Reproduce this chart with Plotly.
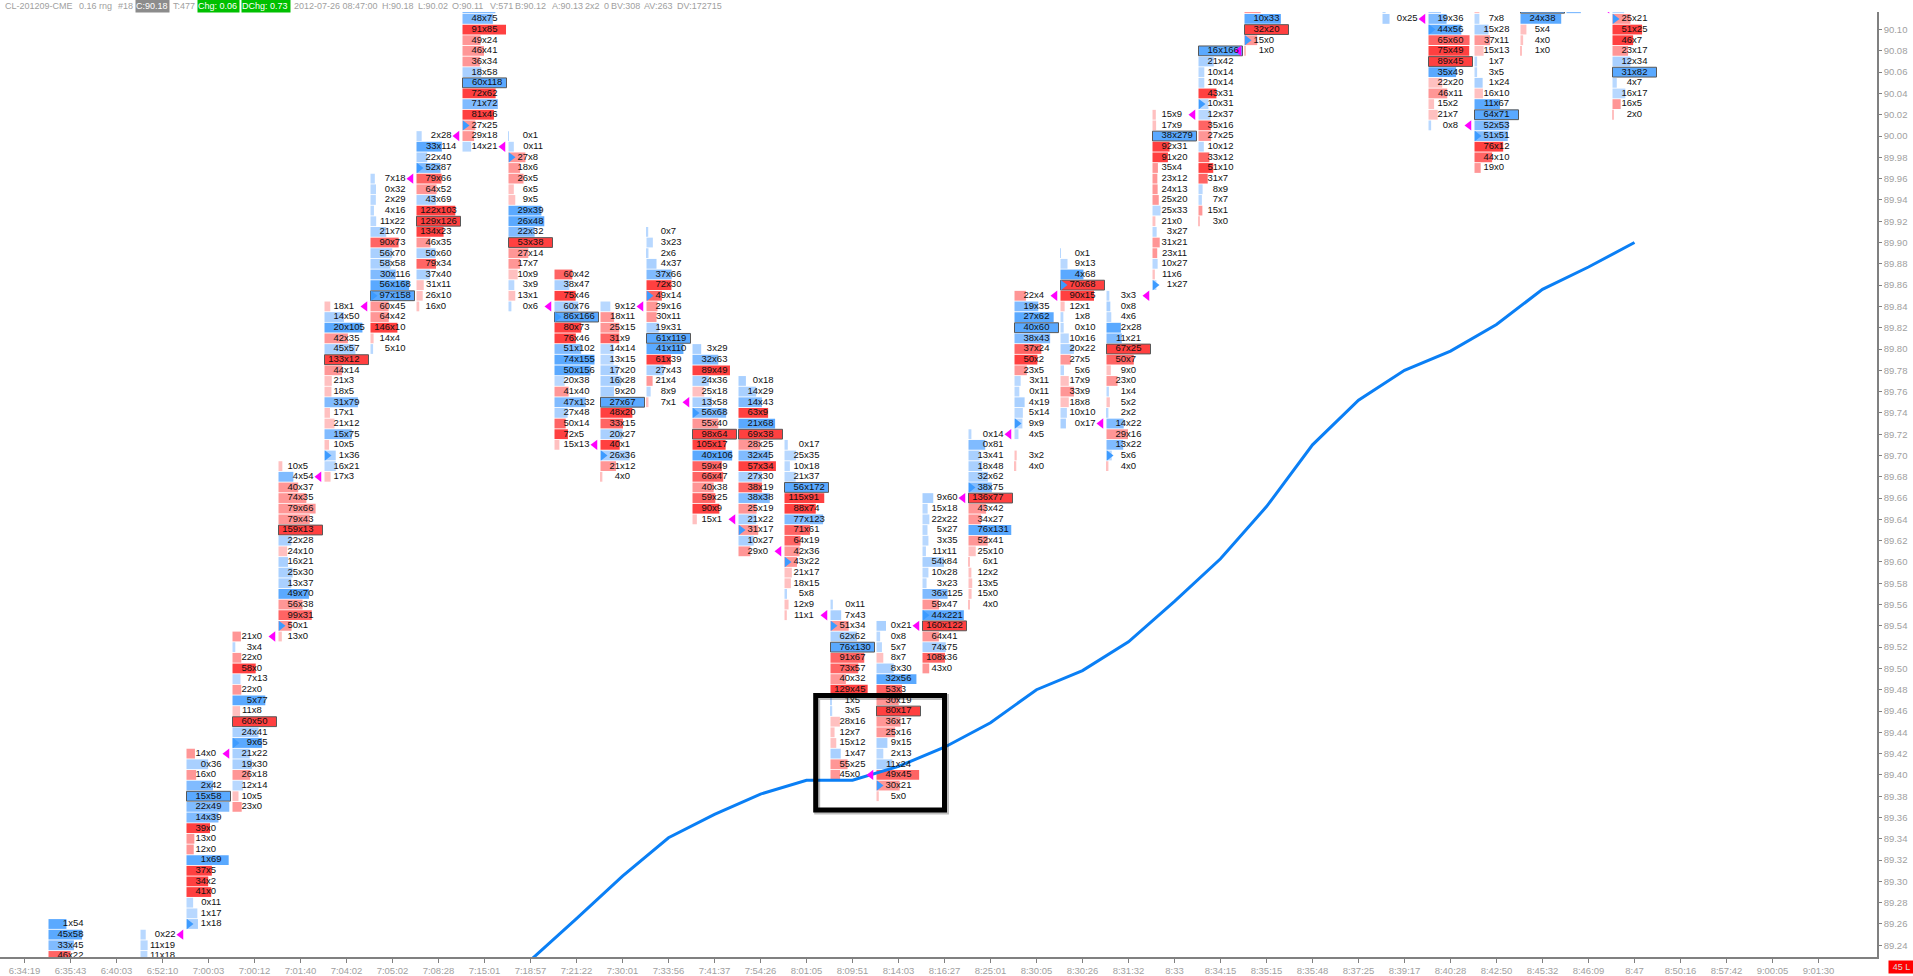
import plotly.graph_objs as go

# Time labels under the columns, one per slot
time_labels = ['6:34:19', '6:35:43', '6:40:03', '6:52:10', '7:00:03', '7:00:12', '7:01:40', '7:04:02',
               '7:05:02', '7:08:28', '7:15:01', '7:18:57', '7:21:22', '7:30:01', '7:33:56', '7:41:37',
               '7:54:26', '8:01:05', '8:09:51', '8:14:03', '8:16:27', '8:25:01', '8:30:05', '8:30:26',
               '8:31:32', '8:33', '8:34:15', '8:35:15', '8:35:48', '8:37:25', '8:39:17', '8:40:28',
               '8:42:50', '8:45:32', '8:46:09', '8:47', '8:50:16', '8:57:42', '9:00:05', '9:01:30']

price_ticks = [89.24, 89.26, 89.28, 89.30, 89.32, 89.34, 89.36, 89.38, 89.40, 89.42, 89.44, 89.46,
               89.48, 89.50, 89.52, 89.54, 89.56, 89.58, 89.60, 89.62, 89.64, 89.66, 89.68, 89.70,
               89.72, 89.74, 89.76, 89.78, 89.80, 89.82, 89.84, 89.86, 89.88, 89.90, 89.92, 89.94,
               89.96, 89.98, 90.00, 90.02, 90.04, 90.06, 90.08, 90.10, 90.12]

# bid x ask per price row, top row first. Rows beyond the chart edge are estimates
col_01 = ['1x54', '45x58', '33x45', '46x22', '70x65']
col_03 = ['0x22', '11x19', '11x18', '95x90']
col_04 = ['14x0', '0x36', '16x0', '2x42', '15x58', '22x49', '14x39', '39x0', '13x0', '12x0', '1x69',
          '37x5', '34x2', '41x0', '0x11', '1x17', '1x18']
col_05 = ['21x0', '3x4', '22x0', '58x0', '7x13', '22x0', '5x77', '11x8', '60x50', '24x41', '9x65',
          '21x22', '19x30', '26x18', '12x14', '10x5', '23x0']
col_06 = ['10x5', '4x54', '40x37', '74x35', '79x66', '79x43', '159x13', '22x28', '24x10', '16x21',
          '25x30', '13x37', '49x70', '56x38', '99x31', '50x1', '13x0']
col_07 = ['18x1', '14x50', '20x105', '42x35', '45x57', '133x12', '44x14', '21x3', '18x5', '31x79',
          '17x1', '21x12', '15x75', '10x5', '1x36', '16x21', '17x3']
col_08 = ['7x18', '0x32', '2x29', '4x16', '11x22', '21x70', '90x73', '56x70', '58x58', '30x116',
          '56x168', '97x158', '60x45', '64x42', '146x10', '14x4', '5x10']
col_09 = ['2x28', '33x114', '22x40', '52x87', '79x66', '64x52', '43x69', '122x103', '129x126',
          '134x23', '46x35', '50x60', '79x34', '37x40', '31x11', '26x10', '16x0']
col_10 = ['50x83', '48x75', '91x85', '49x24', '46x41', '36x34', '18x58', '60x118', '72x62', '71x72',
          '81x46', '27x25', '29x18', '14x21']
col_11 = ['0x1', '0x11', '27x8', '18x6', '26x5', '6x5', '9x5', '29x39', '26x48', '22x32', '53x38',
          '27x14', '17x7', '10x9', '3x9', '13x1', '0x6']
col_12 = ['60x42', '38x47', '75x46', '60x76', '86x166', '80x73', '76x46', '51x102', '74x155',
          '50x156', '20x38', '41x40', '47x132', '27x48', '50x14', '72x5', '15x13']
col_13 = ['9x12', '18x11', '25x15', '31x9', '14x14', '13x15', '17x20', '16x28', '9x20', '27x67',
          '48x20', '33x15', '20x27', '40x1', '26x36', '21x12', '4x0']
col_14 = ['0x7', '3x23', '2x6', '4x37', '37x66', '72x30', '49x14', '29x16', '30x11', '19x31',
          '61x119', '41x110', '61x39', '27x43', '21x4', '8x9', '7x1']
col_15 = ['3x29', '32x63', '89x49', '24x36', '25x18', '13x58', '56x68', '55x40', '98x64', '105x17',
          '40x106', '59x49', '66x47', '40x38', '59x25', '90x9', '15x1']
col_16 = ['0x18', '14x29', '14x43', '63x9', '21x68', '69x38', '28x25', '32x45', '57x34', '27x30',
          '38x19', '38x38', '25x19', '21x22', '31x17', '10x27', '29x0']
col_17 = ['0x17', '25x35', '10x18', '21x37', '56x172', '115x91', '88x74', '77x123', '71x61', '64x19',
          '42x36', '43x22', '21x17', '18x15', '5x8', '12x9', '11x1']
col_18 = ['0x11', '7x43', '51x34', '62x62', '76x130', '91x67', '73x57', '40x32', '129x45', '1x5',
          '3x5', '28x16', '12x7', '15x12', '1x47', '55x25', '45x0']
col_19 = ['0x21', '0x8', '5x7', '8x7', '8x30', '32x56', '53x3', '30x19', '80x17', '36x17', '25x16',
          '9x15', '2x13', '11x24', '49x45', '30x21', '5x0']
col_20 = ['9x60', '15x18', '22x22', '5x27', '3x35', '11x11', '54x84', '10x28', '3x23', '36x125',
          '59x47', '44x221', '160x122', '64x41', '74x75', '108x36', '43x0']
col_21 = ['0x14', '0x81', '13x41', '18x48', '32x62', '38x75', '136x77', '43x42', '34x27', '76x131',
          '52x41', '25x10', '6x1', '12x2', '13x5', '15x0', '4x0']
col_22 = ['22x4', '19x35', '27x62', '40x60', '38x43', '37x24', '50x2', '23x5', '3x11', '0x11', '4x19',
          '5x14', '9x9', '4x5', '', '3x2', '4x0']
col_23 = ['0x1', '9x13', '4x68', '70x68', '90x15', '12x1', '1x8', '0x10', '10x16', '20x22', '27x5',
          '5x6', '17x9', '33x9', '18x8', '10x10', '0x17']
col_24 = ['3x3', '0x8', '4x6', '2x28', '11x21', '67x25', '50x7', '9x0', '23x0', '1x4', '5x2', '2x2',
          '14x22', '29x16', '13x22', '5x6', '4x0']
col_25 = ['15x9', '17x9', '38x279', '92x31', '91x20', '35x4', '23x12', '24x13', '25x20', '25x33',
          '21x0', '3x27', '31x21', '23x11', '10x27', '11x6', '1x27']
col_26 = ['16x166', '21x42', '10x14', '10x14', '43x31', '10x31', '12x37', '35x16', '27x25', '10x12',
          '33x12', '51x10', '31x7', '8x9', '7x7', '15x1', '3x0']
col_27 = ['14x5', '10x33', '32x20', '15x0', '1x0']
col_30 = ['80x76', '5x6', '0x25']
col_31 = ['10x28', '19x36', '44x56', '65x60', '75x49', '89x45', '35x49', '22x20', '46x11', '15x2',
          '21x7', '0x8']
col_32 = ['10x5', '7x8', '15x28', '37x11', '15x13', '1x7', '3x5', '1x24', '16x10', '11x67', '64x71',
          '52x53', '51x51', '76x12', '44x10', '19x0']
col_33 = ['30x37', '24x38', '5x4', '4x0', '1x0']
col_34 = ['80x70', '9x40']
col_35 = ['10x20', '25x21', '51x25', '46x7', '23x17', '12x34', '31x82', '4x7', '16x17', '16x5', '2x0']

column_slots = [1, 3, 4, 5, 6, 7, 8, 9, 10, 11, 12, 13, 14, 15, 16, 17, 18, 19, 20, 21, 22, 23, 24,
                25, 26, 27, 30, 31, 32, 33, 34, 35]
column_tops = [89.26, 89.25, 89.42, 89.53, 89.69, 89.84, 89.96, 90.00, 90.12, 90.00, 89.87, 89.84,
               89.91, 89.80, 89.77, 89.71, 89.56, 89.54, 89.66, 89.72, 89.85, 89.89, 89.85, 90.02,
               90.08, 90.12, 90.13, 90.12, 90.12, 90.12, 90.13, 90.12]
column_rows = [col_01, col_03, col_04, col_05, col_06, col_07, col_08, col_09, col_10, col_11, col_12,
               col_13, col_14, col_15, col_16, col_17, col_18, col_19, col_20, col_21, col_22, col_23,
               col_24, col_25, col_26, col_27, col_30, col_31, col_32, col_33, col_34, col_35]

# Where each bar opened (blue mark) and closed (magenta mark)
open_slots = [4, 5, 6, 7, 8, 9, 10, 11, 12, 13, 14, 15, 16, 17, 18, 19, 20, 21, 22, 23, 24, 25, 26, 27, 31, 32, 35]
open_prices = [89.26, 89.43, 89.54, 89.70, 89.85, 89.97, 90.01, 89.98, 89.83, 89.70, 89.85, 89.74, 89.63,
               89.60, 89.54, 89.39, 89.55, 89.67, 89.73, 89.86, 89.70, 89.86, 90.03, 90.09, 90.10, 90.00, 90.11]
close_slots = [3, 4, 5, 6, 7, 8, 9, 10, 11, 12, 13, 14, 15, 16, 17, 18, 19, 20, 21, 22, 23, 24, 25, 26, 30, 31, 34]
close_prices = [89.25, 89.42, 89.53, 89.68, 89.84, 89.96, 90.00, 89.99, 89.84, 89.71, 89.84, 89.75, 89.64,
                89.61, 89.55, 89.40, 89.54, 89.66, 89.72, 89.85, 89.73, 89.85, 90.02, 90.08, 90.11, 90.01, 90.12]

# Blue average line, one value per slot
line_slots = [11, 12, 13, 14, 15, 16, 17, 18, 19, 20, 21, 22, 23, 24, 25, 26, 27, 28, 29, 30, 31, 32, 33, 34, 35]
line_prices = [89.226, 89.265, 89.305, 89.341, 89.363, 89.382, 89.395, 89.395, 89.408, 89.426, 89.449,
               89.48, 89.498, 89.525, 89.563, 89.603, 89.652, 89.71, 89.752, 89.78, 89.798, 89.823,
               89.856, 89.877, 89.90]

SLOT = 46.0        # px between columns
FIRST = 24.5       # px of slot 0
BAR_PX = 44.0
DIGIT_PX = 5.3
PRICE_MIN, PRICE_MAX = 89.229, 90.1165
RED = ['#ffc0c0', '#ff9696', '#ff6464', '#ff4040']
BLUE = ['#b8d8ff', '#a9d0ff', '#80bbff', '#5aa9ff']


def shade(ratio, cuts, colors):
    for cut, color in zip(cuts, colors[::-1]):
        if ratio >= cut:
            return color
    return colors[0]


bar_y, bar_w, bar_base, bar_color, bar_line = [], [], [], [], []
text_x, text_y, text_s = [], [], []

for slot, top, rows in zip(column_slots, column_tops, column_rows):
    cells = [r.split('x') if r else None for r in rows]
    pairs = [(int(c[0]), int(c[1])) if c else (0, 0) for c in cells]
    biggest = max(b + a for b, a in pairs)
    max_bid = max(max(b for b, a in pairs), 1)
    max_ask = max(max(a for b, a in pairs), 1)
    for n, (label, (b, a)) in enumerate(zip(rows, pairs)):
        if not label:
            continue
        price = round(top - n * 0.01, 2)
        if b > a:
            color = shade(b / max_bid, [0.75, 0.55, 0.25], RED)
        else:
            color = shade(a / max_ask, [0.8, 0.55, 0.25], BLUE)
        bar_y.append(price)
        bar_w.append((b + a) / biggest * BAR_PX / SLOT)
        bar_base.append(slot - BAR_PX / 2 / SLOT)
        bar_color.append(color)
        bar_line.append(1 if b + a == biggest else 0)
        # rows past the top edge only leave a sliver of bar, no label
        if price > PRICE_MAX or price < PRICE_MIN:
            continue
        # keep the x of every label on the column centre
        shift = (len(str(a)) - len(str(b))) * DIGIT_PX / 2
        text_x.append(slot + shift / SLOT)
        text_y.append(price)
        text_s.append(label)

fig = go.Figure()

fig.add_trace(go.Bar(
    y=bar_y, x=bar_w, base=bar_base, orientation='h', width=0.0092,
    marker=dict(color=bar_color, line=dict(color='#585858', width=bar_line)),
    hoverinfo='skip', showlegend=False
))

fig.add_trace(go.Scatter(
    x=line_slots, y=line_prices, mode='lines',
    line=dict(color='#0a7ff5', width=3), hoverinfo='skip', showlegend=False
))

fig.add_trace(go.Scatter(
    x=[s - 19.5 / SLOT for s in open_slots], y=open_prices, mode='markers',
    marker=dict(symbol='triangle-right', size=9, color='#3d9bff'),
    hoverinfo='skip', showlegend=False
))

fig.add_trace(go.Scatter(
    x=[s + 18.5 / SLOT for s in close_slots], y=close_prices, mode='markers',
    marker=dict(symbol='triangle-left', size=9, color='#ff00ff'),
    hoverinfo='skip', showlegend=False
))

fig.add_trace(go.Scatter(
    x=text_x, y=text_y, text=text_s, mode='text', textposition='middle center',
    textfont=dict(family='Liberation Sans', size=9.5, color='#111111'),
    hoverinfo='skip', showlegend=False
))

# Hand drawn box around the turn, with its soft shadow
for offset, color, width in [(1.5, 'rgba(0,0,0,0.25)', 6), (0, '#000000', 5)]:
    fig.add_shape(type='rect', xref='x', yref='y',
                  x0=17.2 + offset / SLOT, x1=20.0 + offset / SLOT,
                  y0=89.4747 - offset / 1068, y1=89.367 - offset / 1068,
                  line=dict(color=color, width=width), layer='above')

PLOT_W, PLOT_H = 1877.0, 948.0


def header(text, px, width=None, bg=None, color='#a0a0a0', y_px=6, height=None, align='left'):
    fig.add_annotation(
        xref='paper', yref='paper', x=px / PLOT_W, y=(960 - y_px) / PLOT_H,
        xanchor='left', yanchor='middle', text=text, showarrow=False, align=align,
        width=width, height=height, bgcolor=bg, borderpad=0,
        font=dict(family='Liberation Sans', size=9, color=color)
    )


header_items = [('CL-201209-CME', 4), ('0.16 rng', 78), ('#18', 117), ('T:477', 172),
                ('2012-07-26 08:47:00', 293), ('H:90.18', 381), ('L:90.02', 417), ('O:90.11', 451),
                ('V:571', 489), ('B:90.12', 514), ('A:90.13', 551), ('2x2', 584), ('0', 603),
                ('BV:308', 610), ('AV:263', 643), ('DV:172715', 676)]
for label, px in header_items:
    header(label, px)
header('C:90.18', 135, width=33, bg='#8c8c8c', color='#ffffff', height=12)
header('Chg: 0.06', 197, width=41, bg='#00c000', color='#ffffff', height=12)
header('DChg: 0.73', 241, width=48, bg='#00c000', color='#ffffff', height=12)
header('45 L', 1888, width=25, bg='#ff0000', color='#d8d8d8', y_px=970, height=12, align='center')

fig.update_layout(
    width=1913, height=976,
    margin=dict(l=0, r=36, t=12, b=16),
    plot_bgcolor='#ffffff', paper_bgcolor='#ffffff',
    barmode='overlay', showlegend=False,
    xaxis=dict(range=[-FIRST / SLOT, (PLOT_W - FIRST) / SLOT],
               tickmode='array', tickvals=list(range(len(time_labels))), ticktext=time_labels,
               ticks='outside', ticklen=4, tickcolor='#808080', linecolor='#808080', linewidth=1.5,
               showline=True, showgrid=False, zeroline=False,
               tickfont=dict(family='Liberation Sans', size=9.5, color='#a0a0a0')),
    yaxis=dict(range=[PRICE_MIN, PRICE_MAX], side='right',
               tickmode='array', tickvals=price_ticks, tickformat='.2f',
               ticks='outside', ticklen=3, tickcolor='#808080', linecolor='#808080', linewidth=1.5,
               showline=True, showgrid=False, zeroline=False,
               tickfont=dict(family='Liberation Sans', size=9.5, color='#a0a0a0')),
)

fig.write_html("out.html", config=dict(displayModeBar=False),
               post_script="document.body.style.margin='0';")
